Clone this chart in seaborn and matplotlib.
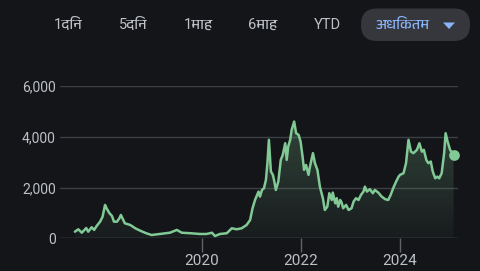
import matplotlib
matplotlib.use("Agg")
import matplotlib.pyplot as plt
import seaborn as sns
import numpy as np
import pandas as pd
from matplotlib.patches import FancyBboxPatch
from matplotlib import font_manager

# ---- data ----
years = [2017.43, 2017.50, 2017.57, 2017.66, 2017.70, 2017.77, 2017.82, 2017.87, 2017.94, 2017.99,
         2018.04, 2018.07, 2018.13, 2018.18, 2018.22, 2018.28, 2018.33, 2018.36, 2018.40, 2018.44,
         2018.55, 2018.65, 2018.75, 2018.87, 2018.98, 2019.15, 2019.35, 2019.49, 2019.59, 2019.76,
         2019.96, 2020.09, 2020.20, 2020.26, 2020.36, 2020.50, 2020.60, 2020.70, 2020.80, 2020.90,
         2020.97, 2021.02, 2021.07, 2021.14, 2021.17, 2021.21, 2021.25, 2021.29, 2021.32, 2021.35,
         2021.39, 2021.43, 2021.46, 2021.49, 2021.54, 2021.59, 2021.63, 2021.68, 2021.71, 2021.74,
         2021.78, 2021.81, 2021.86, 2021.90, 2021.95, 2021.99, 2022.03, 2022.06, 2022.10, 2022.15,
         2022.18, 2022.24, 2022.28, 2022.33, 2022.38, 2022.44, 2022.48, 2022.53, 2022.57, 2022.62,
         2022.64, 2022.69, 2022.72, 2022.75, 2022.79, 2022.82, 2022.85, 2022.91, 2022.96, 2023.02,
         2023.06, 2023.11, 2023.16, 2023.21, 2023.26, 2023.29, 2023.33, 2023.39, 2023.45, 2023.49,
         2023.56, 2023.63, 2023.70, 2023.76, 2023.81, 2023.86, 2023.92, 2023.97, 2024.00, 2024.07,
         2024.12, 2024.17, 2024.22, 2024.27, 2024.34, 2024.39, 2024.44, 2024.48, 2024.53, 2024.57,
         2024.62, 2024.66, 2024.71, 2024.75, 2024.79, 2024.84, 2024.89, 2024.92, 2024.96, 2025.01,
         2025.08]
prices = [260, 355, 220, 405, 260, 435, 330, 485, 655, 850,
          1315, 1185, 985, 880, 655, 655, 790, 920, 750, 590,
          525, 395, 300, 200, 130, 170, 220, 330, 220, 200,
          170, 170, 220, 90, 170, 200, 395, 355, 395, 525,
          720, 1185, 1510, 1840, 1640, 1905, 1970, 2300, 2960, 3880,
          2630, 2500, 2235, 1905, 2235, 3090, 3285, 3745, 3090, 3615,
          3880, 4270, 4600, 4140, 4075, 3810, 3220, 2695, 2890, 2500,
          2825, 3355, 2960, 2695, 2035, 1580, 1115, 1245, 1775, 1510,
          1800, 1380, 1580, 1245, 1510, 1405, 1185, 1315, 1115, 1185,
          1445, 1580, 1510, 1710, 1840, 2035, 1840, 1935, 1775, 1905,
          1800, 1640, 1540, 1510, 1710, 1970, 2235, 2430, 2500, 2565,
          2960, 3880, 3415, 3355, 3485, 3745, 3415, 3485, 3090, 2960,
          3025, 2630, 2365, 2430, 2365, 2565, 3355, 4140, 3810, 3485,
          3285]
ytick_vals = [0, 2000, 4000, 6000]
ytick_labels = ["0", "2,000", "4,000", "6,000"]
xtick_vals = [2020, 2022, 2024]
xtick_labels = ["2020", "2022", "2024"]
range_buttons = ["1दिन", "5दिन", "1माह", "6माह", "YTD"]
selected_button = "अधिकतम"

df = pd.DataFrame({"year": years, "price": prices})

# ---- style ----
BG = "#141519"
GREEN = "#81c995"
GRID = "#3c3f44"
TXT = "#bdc1c6"

sns.set_theme(style="dark")
deva_fonts = []
for f in font_manager.fontManager.ttflist:
    if "Devanagari" in f.name or "Hind" in f.name or "Mukta" in f.name or "Lohit" in f.name:
        deva_fonts.append(f.name)
fam = ["Roboto"] + sorted(set(deva_fonts)) + ["Noto Sans", "DejaVu Sans"]
plt.rcParams["font.family"] = fam

fig = plt.figure(figsize=(4.8, 2.71), dpi=100, facecolor=BG)
ax = fig.add_axes([60 / 480, (271 - 238.3) / 271, (458 - 60) / 480, (238.3 - 86) / 271])
ax.set_facecolor(BG)

sns.lineplot(data=df, x="year", y="price", ax=ax, color=GREEN, linewidth=1.8, zorder=4)

# gradient fill under the line
poly = ax.fill_between(df["year"], df["price"], 0, color="none", lw=0)
ymax = max(prices)
grad = np.zeros((100, 2, 4))
rgb = matplotlib.colors.to_rgb(GREEN)
grad[..., 0], grad[..., 1], grad[..., 2] = rgb
grad[..., 3] = np.linspace(0.26, 0.04, 100)[:, None]
im = ax.imshow(grad, extent=[years[0], years[-1], 0, ymax], origin="upper",
               aspect="auto", zorder=2)
im.set_clip_path(poly.get_paths()[0], transform=ax.transData)

# end marker
ax.scatter([years[-1]], [prices[-1]], s=60, color=GREEN, zorder=5, clip_on=False, linewidths=0)

ax.set_xlim(2017.13, 2025.17)
ax.set_ylim(0, 6000)
ax.set_yticks(ytick_vals)
ax.set_yticklabels(ytick_labels)
ax.set_xticks(xtick_vals)
ax.set_xticklabels(xtick_labels)
ax.set_xlabel("")
ax.set_ylabel("")
for s in ax.spines.values():
    s.set_visible(False)
ax.grid(False)
for v in ytick_vals:
    ax.axhline(v, color=GRID if v else "#5f6368", lw=1.0, zorder=1)
ax.tick_params(axis="y", length=0, pad=3, labelsize=10, labelcolor=TXT)
ax.tick_params(axis="x", length=10, width=1, color="#5f6368", pad=1.5, labelsize=11,
               labelcolor=TXT, direction="out", bottom=True)

# range selector bar
xs = [68, 133, 198, 263, 327]
for x, lab in zip(xs, range_buttons):
    fig.text(x / 480, 1 - 25 / 271, lab, color=TXT, fontsize=10.5, ha="center", va="center")
pill = FancyBboxPatch((3.61, 2.71 - 0.41), 1.09, 0.325,
                      boxstyle="round,pad=0,rounding_size=0.16", transform=fig.dpi_scale_trans,
                      facecolor="#35373c", edgecolor="none")
fig.patches.append(pill)
fig.text(403 / 480, 1 - 25 / 271, selected_button, color="#8ab4f8", fontsize=10.5,
         ha="center", va="center")
tri_x = np.array([443, 455, 449]) / 480
tri_y = 1 - np.array([22.5, 22.5, 29]) / 271
fig.patches.append(plt.Polygon(np.column_stack([tri_x, tri_y]), closed=True,
                               transform=fig.transFigure, facecolor="#8ab4f8", edgecolor="none"))

fig.savefig("out.png", dpi=100, facecolor=BG)
